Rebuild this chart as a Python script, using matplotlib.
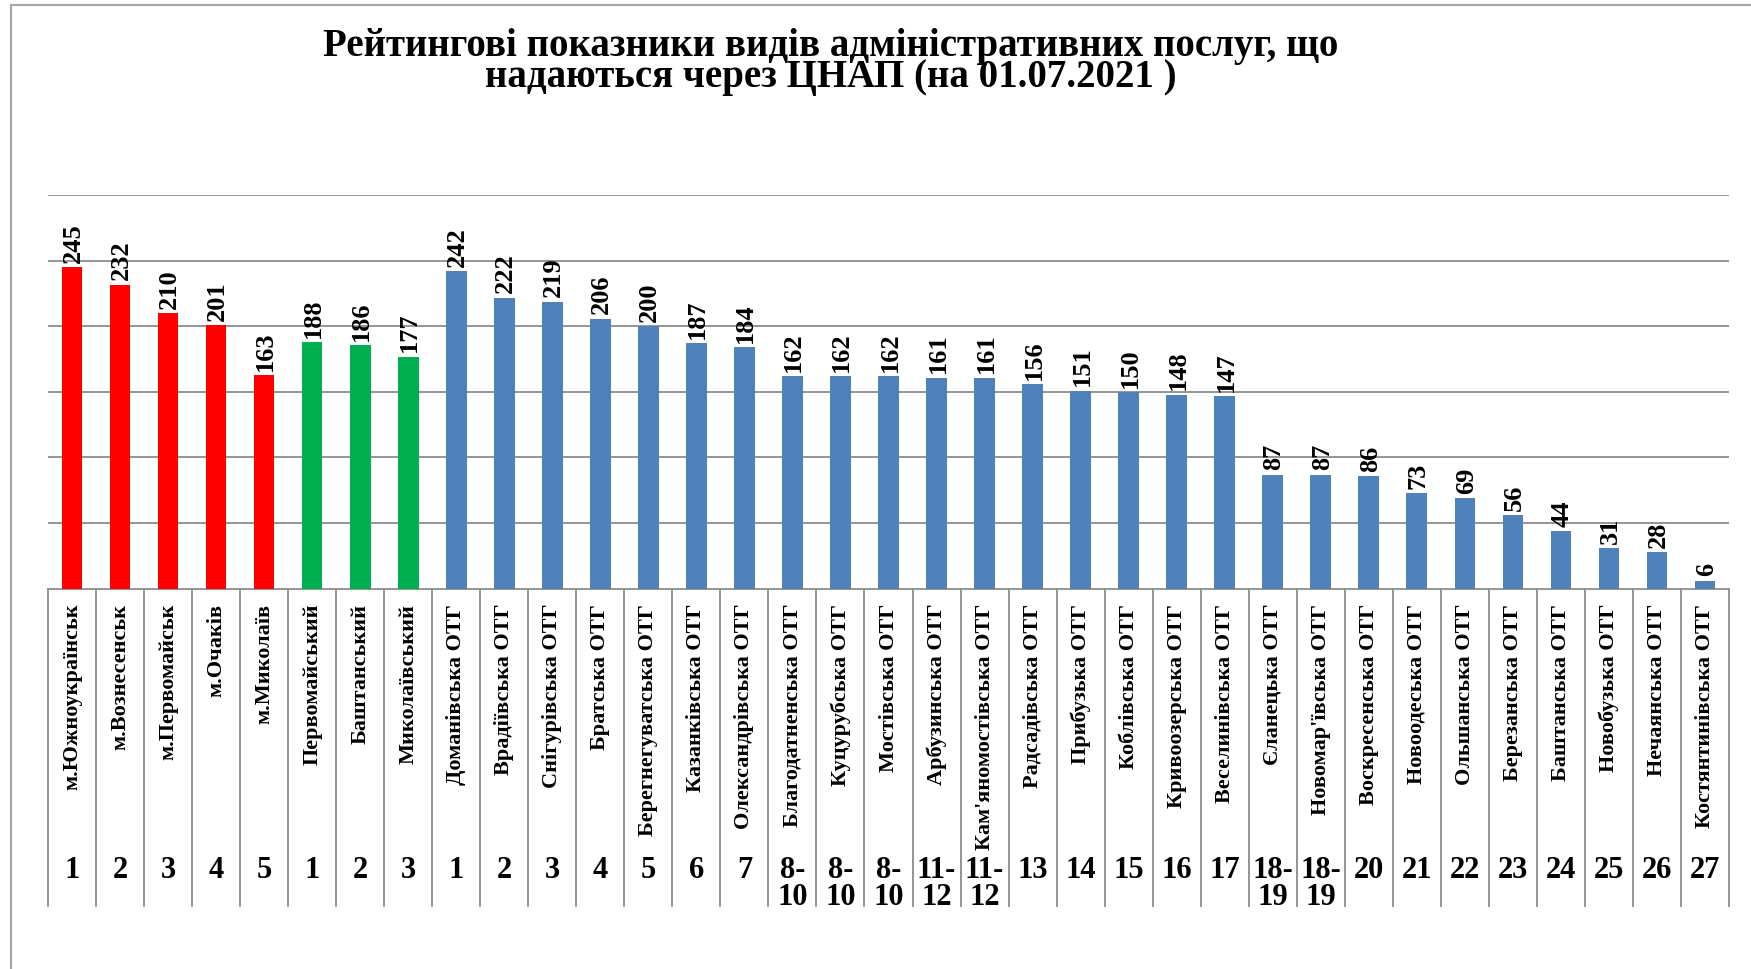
import matplotlib
matplotlib.use('Agg')
import matplotlib.pyplot as plt
from matplotlib.lines import Line2D
import numpy as np

# Data
names = ['м.Южноукраїнськ', 'м.Вознесенськ', 'м.Первомайськ', 'м.Очаків', 'м.Миколаїв',
         'Первомайський', 'Баштанський', 'Миколаївський',
         'Доманівська ОТГ', 'Врадіївська ОТГ', 'Снігурівська ОТГ', 'Братська ОТГ',
         'Берегнегуватська ОТГ', 'Казанківська ОТГ', 'Олександрівська ОТГ',
         'Благодатненська ОТГ', 'Куцурубська ОТГ', 'Мостівська ОТГ', 'Арбузинська ОТГ',
         "Кам'яномостівська ОТГ", 'Радсадівська ОТГ', 'Прибузька ОТГ', 'Коблівська ОТГ',
         'Кривоозерська ОТГ', 'Веселинівська ОТГ', 'Єланецька ОТГ', "Новомар'ївська ОТГ",
         'Воскресенська ОТГ', 'Новоодеська ОТГ', 'Ольшанська ОТГ', 'Березанська ОТГ',
         'Баштанська ОТГ', 'Новобузька ОТГ', 'Нечаянська ОТГ', 'Костянтинівська ОТГ']
values = [245, 232, 210, 201, 163,
          188, 186, 177,
          242, 222, 219, 206, 200, 187, 184, 162, 162, 162, 161, 161,
          156, 151, 150, 148, 147, 87, 87, 86, 73, 69, 56, 44, 31, 28, 6]
ranks = ['1', '2', '3', '4', '5',
         '1', '2', '3',
         '1', '2', '3', '4', '5', '6', '7', '8-\n10', '8-\n10', '8-\n10',
         '11-\n12', '11-\n12', '13', '14', '15', '16', '17', '18-\n19', '18-\n19',
         '20', '21', '22', '23', '24', '25', '26', '27']
groups = ['city'] * 5 + ['district'] * 3 + ['otg'] * 27
group_colors = {'city': '#FF0000', 'district': '#00B050', 'otg': '#4F81BD'}

title = ('Рейтингові показники видів адміністративних послуг, що\n'
         'надаються через ЦНАП (на 01.07.2021 )')

plt.rcParams['font.family'] = ['Liberation Serif', 'DejaVu Serif']
plt.rcParams['font.weight'] = 'bold'

W, H = 1751, 969
fig = plt.figure(figsize=(W / 100, H / 100), dpi=100)

# axes box in pixels: left 48, right 1729, baseline 588.5, top (300) 195.4
ax = fig.add_axes([48 / W, (H - 588.5) / H, (1729 - 48) / W, (588.5 - 195.4) / H])

x = np.arange(len(values))
colors = [group_colors[g] for g in groups]
ax.bar(x, values, width=0.43, color=colors, zorder=3)

ax.set_xlim(-0.5, len(values) - 0.5)
ax.set_ylim(0, 300)
ax.set_yticks(np.arange(50, 301, 50))
ax.yaxis.grid(True, color='#8C8C8C', linewidth=1.3, zorder=0)
ax.tick_params(axis='y', left=False, labelleft=False)
for side in ['left', 'right', 'top']:
    ax.spines[side].set_visible(False)
ax.spines['bottom'].set_color('#8C8C8C')
ax.spines['bottom'].set_linewidth(1.3)

# value labels
for xi, v in zip(x, values):
    ax.annotate(str(v), (xi, v), xytext=(1, 3), textcoords='offset points',
                rotation=90, ha='center', va='bottom', fontsize=19, fontweight='bold')

# category labels
ax.set_xticks(x)
ax.set_xticklabels(names, rotation=90, fontsize=16, fontweight='bold')
ax.tick_params(axis='x', length=0, pad=11)

# rank labels and separators below the axis
trans = ax.get_xaxis_transform()
for xi, r in zip(x, ranks):
    ax.text(xi, -0.680, r, transform=trans, ha='center', va='top',
            fontsize=22, fontweight='bold', linespacing=0.9)
for b in np.arange(-0.5, len(values), 1.0):
    ax.add_line(Line2D([b, b], [0, -0.808], transform=trans, color='#8C8C8C',
                       linewidth=1.3, clip_on=False))

# title
fig.text(831 / W, 1 - 62 / H, title, ha='center', va='center', fontsize=28,
         fontweight='bold', linespacing=0.78)

# chart frame (top and left edges visible)
fig.add_artist(Line2D([11 / W, 11 / W], [0, 1 - 5 / H], transform=fig.transFigure,
                      color='#A6A6A6', linewidth=1.5))
fig.add_artist(Line2D([11 / W, 1], [1 - 5 / H, 1 - 5 / H], transform=fig.transFigure,
                      color='#A6A6A6', linewidth=1.5))

fig.savefig('out.png', dpi=100)
